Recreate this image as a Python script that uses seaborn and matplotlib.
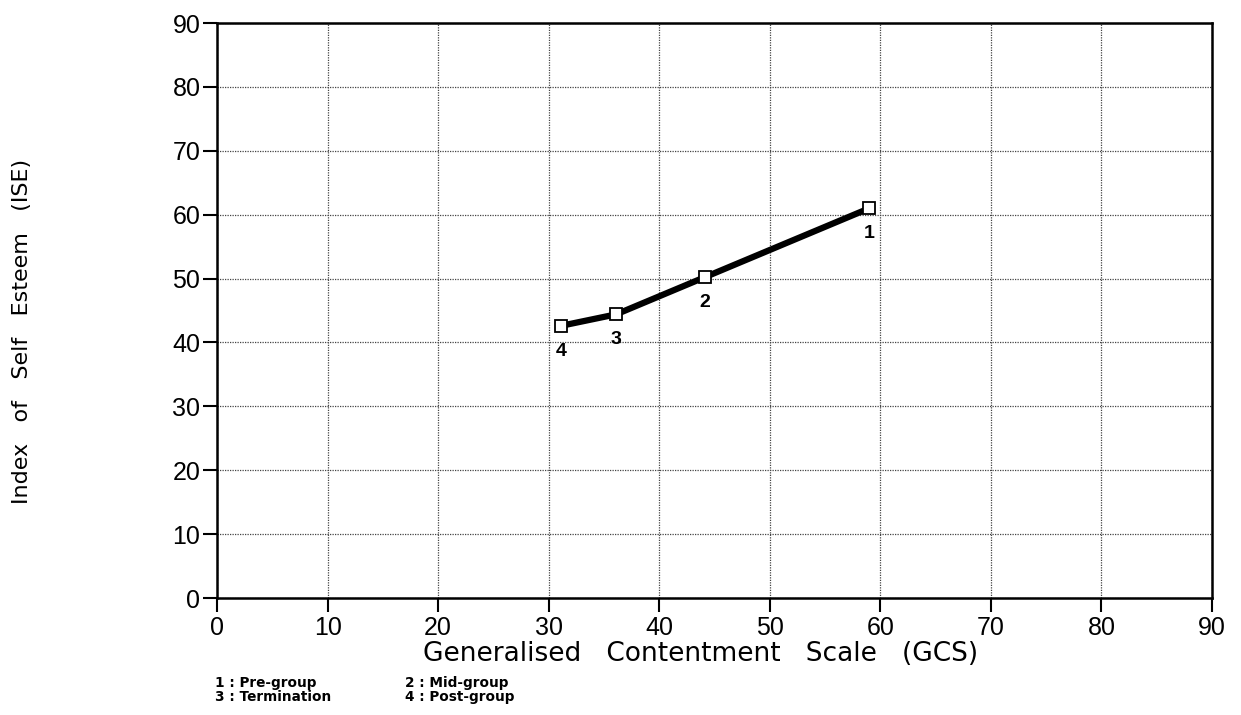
"""Self esteem vs contentment across group stages."""
import numpy as np
import pandas as pd
import seaborn as sns
import matplotlib.pyplot as plt

# Data.
stage = ['1', '2', '3', '4']
gcs = [59.0, 44.1, 36.1, 31.1]
ise = [61.0, 50.2, 44.4, 42.6]
legend_lines = [('1 : Pre-group', '2 : Mid-group'),
                ('3 : Termination', '4 : Post-group')]

df = pd.DataFrame({'stage': stage, 'gcs': gcs, 'ise': ise})

sns.set_style('ticks')
plt.rcParams['font.family'] = ['Liberation Sans', 'DejaVu Sans']
plt.rcParams['text.color'] = 'black'

fig = plt.figure(figsize=(12.41, 7.15), dpi=100)
ax = fig.add_axes([0.1749, 0.1636, 0.9766 - 0.1749, 0.9678 - 0.1636])

sns.lineplot(data=df, x='gcs', y='ise', sort=False, color='black',
             linewidth=4.5, marker='s', markersize=9,
             markerfacecolor='white', markeredgecolor='black',
             markeredgewidth=1.3, ax=ax, zorder=5)

# Stage numbers under each point.
for s, x, y in zip(stage, gcs, ise):
    ax.annotate(s, (x, y), xytext=(0, -12), textcoords='offset points',
                ha='center', va='top', fontsize=14, fontweight='bold',
                color='black')

ax.set_xlim(0, 90)
ax.set_ylim(0, 90)
ax.set_xticks(np.arange(0, 91, 10))
ax.set_yticks(np.arange(0, 91, 10))
ax.tick_params(axis='both', labelsize=18, length=10, width=1.5,
               direction='out', colors='black')
ax.tick_params(axis='x', pad=3)
ax.tick_params(axis='y', pad=2)
ax.grid(True, color='#444444', linestyle=(0, (1, 1)), linewidth=0.9)
for sp in ax.spines.values():
    sp.set_visible(True)
    sp.set_linewidth(1.8)
    sp.set_color('black')

ax.set_xlabel('Generalised   Contentment   Scale   (GCS)', fontsize=19,
              family='DejaVu Sans', color='black')
ax.xaxis.set_label_coords(0.486, -0.074)
ax.xaxis.label.set_va('top')
ax.set_ylabel('Index   of   Self   Esteem   (ISE)', fontsize=16,
              family='DejaVu Sans', color='black')
ax.yaxis.set_label_coords(-0.196, 0.463)
ax.yaxis.label.set_va('center')

# Stage key at the bottom.
for row, (left, right) in enumerate(legend_lines):
    fig.text(0.1733, 0.045 - row * 0.02, left, fontsize=9.8,
             fontweight='bold', va='center', family='DejaVu Sans')
    fig.text(0.326, 0.045 - row * 0.02, right, fontsize=9.8,
             fontweight='bold', va='center', family='DejaVu Sans')

fig.savefig('out.png', dpi=100, facecolor='white')
